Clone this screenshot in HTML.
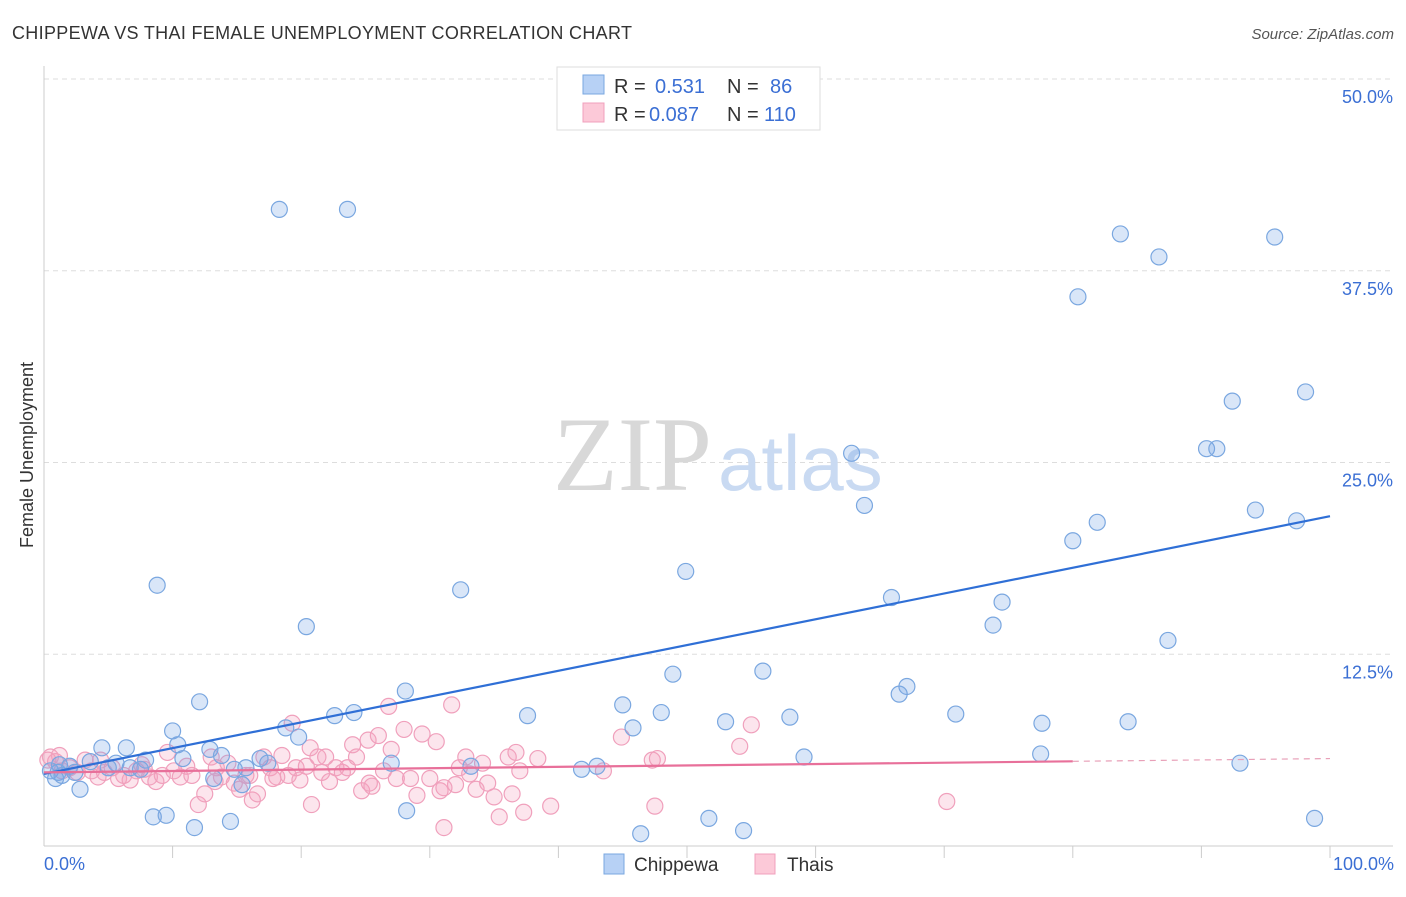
<!DOCTYPE html>
<html><head><meta charset="utf-8"><style>
body{margin:0;background:#fff;font-family:"Liberation Sans",sans-serif;}
svg text{font-family:"Liberation Sans",sans-serif;}
</style></head><body>
<svg width="1406" height="892">
<text x="12" y="39" font-size="18" fill="#333" textLength="620">CHIPPEWA VS THAI FEMALE UNEMPLOYMENT CORRELATION CHART</text>
<text x="1394" y="39" font-size="15" fill="#555" font-style="italic" text-anchor="end">Source: ZipAtlas.com</text>
<g id="grid"></g>
<text x="712" y="490" font-size="106" fill="#d8d8d8" text-anchor="end" style="font-family:'Liberation Serif',serif">ZIP</text>
<text x="718" y="490" font-size="78" fill="#c9daf2">atlas</text>
<g id="pts"></g>
<g id="lines"></g>
<text transform="translate(33,455) rotate(-90)" font-size="18" fill="#333" text-anchor="middle">Female Unemployment</text>
<text x="44" y="870" font-size="18" fill="#3b6fd4">0.0%</text>
<text x="1394" y="870" font-size="18" fill="#3b6fd4" text-anchor="end">100.0%</text>
<g>
<rect x="557" y="67" width="263" height="63" fill="#fff" stroke="#ddd"/>
<rect x="583" y="75" width="21" height="19" fill="#b7d1f5" stroke="#7aa7e0"/>
<text x="614" y="93" font-size="20" fill="#333">R =</text><text x="655" y="93" font-size="20" fill="#3b6fd4">0.531</text>
<text x="727" y="93" font-size="20" fill="#333">N =</text><text x="770" y="93" font-size="20" fill="#3b6fd4">86</text>
<rect x="583" y="103" width="21" height="19" fill="#fcc9d8" stroke="#f0a0bc"/>
<text x="614" y="121" font-size="20" fill="#333">R =</text><text x="649" y="121" font-size="20" fill="#3b6fd4">0.087</text>
<text x="727" y="121" font-size="20" fill="#333">N =</text><text x="764" y="121" font-size="20" fill="#3b6fd4">110</text>
</g>
<g>
<rect x="604" y="854" width="20" height="20" fill="#b7d1f5" stroke="#7aa7e0"/>
<text x="634" y="871" font-size="19" fill="#333">Chippewa</text>
<rect x="755" y="854" width="20" height="20" fill="#fcc9d8" stroke="#f0a0bc"/>
<text x="787" y="871" font-size="19" fill="#333">Thais</text>
</g>
</svg>
<script>
const yTicks=[12.5,25,37.5,50];
const yTickLabels=["12.5%","25.0%","37.5%","50.0%"];
const xTicks=[10,20,30,40,50,60,70,80,90,100];
const blueX=[18.3,23.6,83.7,86.7,95.7,80.4,92.4,98.1,62.8,90.4,91.2,63.8,94.2,81.9,97.4,80,8.8,32.4,49.9,65.9,74.5,20.4,73.8,87.4,48.9,55.9,28.1,67.1,12.1,66.5,45,22.6,24.1,37.6,48,70.9,53,58,77.6,84.3,10,45.8,18.8,19.8,10.4,4.5,6.4,12.9,13.8,77.5,59.1,7.9,10.8,16.8,17.4,5.6,3.6,1.2,2,6.7,5,2.4,0.5,0.9,2.8,14.8,15.7,27,33.2,41.8,43,93,13.2,15.4,8.5,9.5,11.7,14.5,28.2,46.4,51.7,54.4,98.8,7.5,1.1,1.4];
const blueY=[41.5,41.5,39.9,38.4,39.7,35.8,29,29.6,25.6,25.9,25.9,22.2,21.9,21.1,21.2,19.9,17,16.7,17.9,16.2,15.9,14.3,14.4,13.4,11.2,11.4,10.1,10.4,9.4,9.9,9.2,8.5,8.7,8.5,8.7,8.6,8.1,8.4,8,8.1,7.5,7.7,7.7,7.1,6.6,6.4,6.4,6.3,5.9,6,5.8,5.6,5.7,5.7,5.4,5.4,5.5,5.3,5.2,5.1,5.1,4.8,4.9,4.4,3.7,5,5.1,5.4,5.2,5,5.2,5.4,4.4,4,1.9,2,1.2,1.6,2.3,0.8,1.8,1,1.8,5,4.8,4.6];
const pinkX=[0.5,0.9,1.4,2,2.6,3.2,3.7,4.2,4.7,5.3,5.8,6.2,6.7,7.2,7.6,8.2,8.7,9.2,9.6,10.1,10.6,11.1,11.5,12,12.5,13,13.4,13.8,14.3,14.8,15.2,15.7,16.2,16.6,17.1,17.6,18.1,18.5,19,19.3,19.6,19.9,20.4,20.8,21.3,21.6,21.9,22.2,22.7,23.2,23.6,24,24.3,24.7,25.2,25.5,26,26.4,26.8,27,27.4,28,28.5,29,29.4,30,30.5,30.8,31.1,31.7,32,32.3,32.8,33.1,33.6,34.1,34.5,35,35.4,36.1,36.4,36.7,37,37.3,38.4,39.4,43.5,44.9,47.3,47.5,47.7,54.1,55,70.2,31.1,25.3,16,4.4,1.2,0.3,7.8,13.3,17.8,20.7];
const pinkY=[5.8,5.5,4.9,5.1,4.8,5.6,4.9,4.5,4.8,5.1,4.4,4.6,4.3,4.9,5.3,4.5,4.2,4.6,6.1,4.9,4.5,5.2,4.6,2.7,3.4,5.8,5.1,4.5,5.4,4.1,3.7,4.6,3,3.4,5.8,5.1,4.5,5.9,4.6,8,5.1,4.3,5.2,2.7,5.8,4.8,5.8,4.2,5.1,4.8,5.1,6.6,5.8,3.6,6.9,3.9,7.2,4.9,9.1,6.3,4.4,7.6,4.4,3.3,7.3,4.4,6.8,3.6,1.2,9.2,4,5.1,5.8,4.7,3.7,5.4,4.1,3.2,1.9,5.8,3.4,6.1,4.9,2.2,5.7,2.6,4.9,7.1,5.6,2.6,5.7,6.5,7.9,2.9,3.8,4.1,4.6,5.6,5.9,5.6,5,4.2,4.4,6.4];
const blueTrend=[4.7,21.5];
const pinkTrend=[4.8,5.7];
const NS="http://www.w3.org/2000/svg";
const X=v=>44+v*12.86, Y=v=>846-v*15.34;
function mk(t,a,p){const e=document.createElementNS(NS,t);for(const k in a)e.setAttribute(k,a[k]);p.appendChild(e);return e;}
const grid=document.getElementById('grid');
yTicks.forEach((t,i)=>{
 const l=mk('line',{x1:44,x2:1393,y1:Y(t),y2:Y(t),stroke:'#ddd','stroke-dasharray':'5,4'},grid);
 
 
 const tx=mk('text',{x:1393,y:Y(t)+24,'font-size':18,fill:'#3b6fd4','text-anchor':'end'},grid);
 tx.textContent=yTickLabels[i];
 
 
});
const ax=mk('line',{x1:44,x2:1393,y1:846,y2:846,stroke:'#ccc'},grid);


const ay=mk('line',{x1:44,x2:44,y1:66,y2:846,stroke:'#ccc'},grid);


xTicks.forEach(t=>{
 const l=mk('line',{x1:X(t),x2:X(t),y1:846,y2:858,stroke:'#ccc'},grid);
 
 
});
const pts=document.getElementById('pts');
pinkX.forEach((x,i)=>{
 const c=mk('circle',{cx:X(x),cy:Y(pinkY[i]),r:8,fill:'rgba(245,160,190,0.28)',stroke:'#f0a0bc','stroke-width':1.2},pts);
 
 
});
blueX.forEach((x,i)=>{
 const c=mk('circle',{cx:X(x),cy:Y(blueY[i]),r:8,fill:'rgba(120,165,230,0.28)',stroke:'#7aa7e0','stroke-width':1.2},pts);
 
 
});
const lines=document.getElementById('lines');
const bl=mk('line',{x1:X(0),y1:Y(blueTrend[0]),x2:X(100),y2:Y(blueTrend[1]),stroke:'#2f6fd6','stroke-width':2.2},lines);


const pm=v=>pinkTrend[0]+(pinkTrend[1]-pinkTrend[0])*v/100;
const pl=mk('line',{x1:X(0),y1:Y(pm(0)),x2:X(80),y2:Y(pm(80)),stroke:'#e8709a','stroke-width':2.2},lines);


const pd=mk('line',{x1:X(80),y1:Y(pm(80)),x2:X(100),y2:Y(pm(100)),stroke:'#e8a0b8','stroke-width':1.2,'stroke-dasharray':'6,5'},lines);


</script>
</body></html>
